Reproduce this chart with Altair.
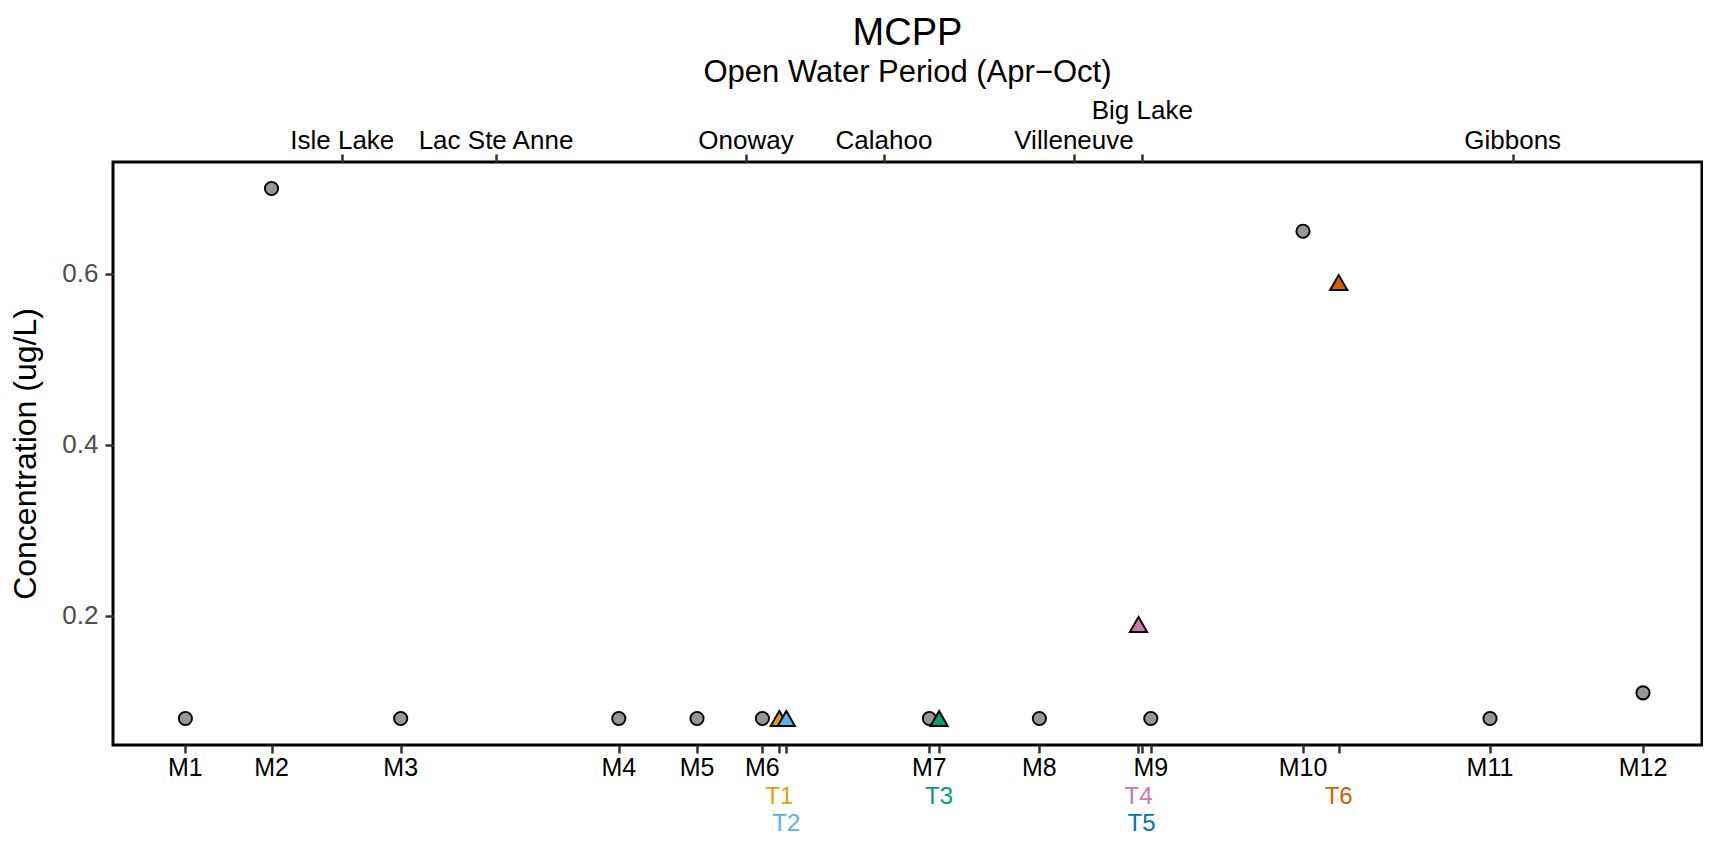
import altair as alt
import pandas as pd

# ---------------- data ----------------
m_sites = ["M1", "M2", "M3", "M4", "M5", "M6", "M7", "M8", "M9", "M10", "M11", "M12"]
m_km = [7.24, 15.85, 28.77, 50.58, 58.40, 64.94, 81.64, 92.64, 103.78, 119.00, 137.70, 153.00]
m_conc = [0.08, 0.70, 0.08, 0.08, 0.08, 0.08, 0.08, 0.08, 0.08, 0.65, 0.08, 0.11]

t_sites = ["T1", "T2", "T3", "T4", "T5", "T6"]
t_km = [66.63, 67.33, 82.61, 102.55, 102.85, 122.57]
t_conc = [0.08, 0.08, 0.08, 0.19, None, 0.59]
t_colors = ["#E69F00", "#56B4E9", "#009E73", "#CC79A7", "#0072B2", "#D55E00"]
t_label_row = [2, 3, 2, 2, 3, 2]

towns = ["Isle Lake", "Lac Ste Anne", "Onoway", "Calahoo", "Villeneuve", "Big Lake", "Gibbons"]
town_km = [22.93, 38.30, 63.30, 77.10, 96.10, 102.93, 139.97]
town_row = [1, 1, 1, 1, 1, 2, 1]

y_ticks = [0.2, 0.4, 0.6]

# ---------------- layout ----------------
W, H = 1589, 583
FONT = "Liberation Sans"
x_scale = alt.Scale(domain=[0, 158.9], nice=False, zero=False)
y_scale = alt.Scale(domain=[0.049, 0.731], nice=False, zero=False)

m_df = pd.DataFrame({"site": m_sites, "km": m_km, "conc": m_conc})
t_df = pd.DataFrame({"site": t_sites, "km": t_km, "conc": t_conc,
                     "color": t_colors, "row": t_label_row})
town_df = pd.DataFrame({"town": towns, "km": town_km, "row": town_row})

y_axis = alt.Axis(values=y_ticks, format=".1f", grid=False, domain=False,
                  tickSize=8, tickWidth=2.5, tickColor="#333333",
                  labelFontSize=26, labelColor="#4D4D4D", labelPadding=7,
                  labelFont=FONT,
                  title="Concentration (ug/L)", titleFontSize=32,
                  titleFont=FONT, titleFontWeight="normal", titleColor="black",
                  titleAngle=-90, titleX=-78, titleY=H / 2,
                  titleAlign="center", titleBaseline="alphabetic")

bottom_axis = alt.Axis(orient="bottom", values=m_km + t_km, labels=False,
                       ticks=True, tickSize=8, tickWidth=2.5,
                       tickColor="#333333", domain=False, grid=False, title=None)

top_axis = alt.Axis(orient="top", values=town_km, labels=False,
                    ticks=True, tickSize=8, tickWidth=2.5,
                    tickColor="#333333", domain=False, grid=False, title=None)

circles = alt.Chart(m_df).mark_point(
    shape="circle", filled=True, fill="#969696", stroke="black",
    strokeWidth=1.9, size=175, opacity=1
).encode(
    x=alt.X("km:Q", scale=x_scale, axis=bottom_axis),
    y=alt.Y("conc:Q", scale=y_scale, axis=y_axis),
)

triangles = alt.Chart(t_df).transform_filter(
    "isValid(datum.conc)"
).mark_point(
    shape="triangle-up", filled=True, stroke="black",
    strokeWidth=1.9, size=300, opacity=1
).encode(
    x=alt.X("km:Q", scale=x_scale, axis=None),
    y=alt.Y("conc:Q", scale=y_scale, axis=y_axis),
    fill=alt.Fill("color:N", scale=None),
)

m_labels = alt.Chart(m_df).mark_text(
    font=FONT, fontSize=25, color="black", align="center", baseline="alphabetic"
).encode(
    x=alt.X("km:Q", scale=x_scale, axis=None),
    y=alt.value(614),
    text="site:N",
)

t_labels2 = alt.Chart(t_df).transform_filter("datum.row == 2").mark_text(
    font=FONT, fontSize=24, align="center", baseline="alphabetic"
).encode(
    x=alt.X("km:Q", scale=x_scale, axis=None),
    y=alt.value(641.5),
    text="site:N",
    color=alt.Color("color:N", scale=None),
)

t_labels3 = alt.Chart(t_df).transform_filter("datum.row == 3").mark_text(
    font=FONT, fontSize=24, align="center", baseline="alphabetic"
).encode(
    x=alt.X("km:Q", scale=x_scale, axis=None),
    y=alt.value(668.5),
    text="site:N",
    color=alt.Color("color:N", scale=None),
)

town_labels1 = alt.Chart(town_df).transform_filter("datum.row == 1").mark_text(
    font=FONT, fontSize=26, color="black", align="center", baseline="alphabetic"
).encode(
    x=alt.X("km:Q", scale=x_scale, axis=top_axis),
    y=alt.value(-13),
    text="town:N",
)

town_labels2 = alt.Chart(town_df).transform_filter("datum.row == 2").mark_text(
    font=FONT, fontSize=26, color="black", align="center", baseline="alphabetic"
).encode(
    x=alt.X("km:Q", scale=x_scale, axis=None),
    y=alt.value(-43),
    text="town:N",
)

chart = alt.layer(
    circles, triangles, m_labels, t_labels2, t_labels3, town_labels1, town_labels2
).resolve_axis(
    x="independent"
).properties(
    width=W,
    height=H,
    autosize=alt.AutoSizeParams(type="none"),
    padding={"left": 105, "top": 154, "right": 1, "bottom": 91},
    background="white",
    title=alt.Title(
        "MCPP",
        subtitle="Open Water Period (Apr\u2212Oct)",
        font=FONT, fontSize=38, fontWeight="normal", color="black",
        subtitleFont=FONT, subtitleFontSize=31, subtitleColor="black",
        anchor="middle", offset=10, subtitlePadding=5,
    ),
).configure_view(
    stroke="black", strokeWidth=3
)

chart.save("out.html", embed_options={"renderer": "svg", "actions": False})
